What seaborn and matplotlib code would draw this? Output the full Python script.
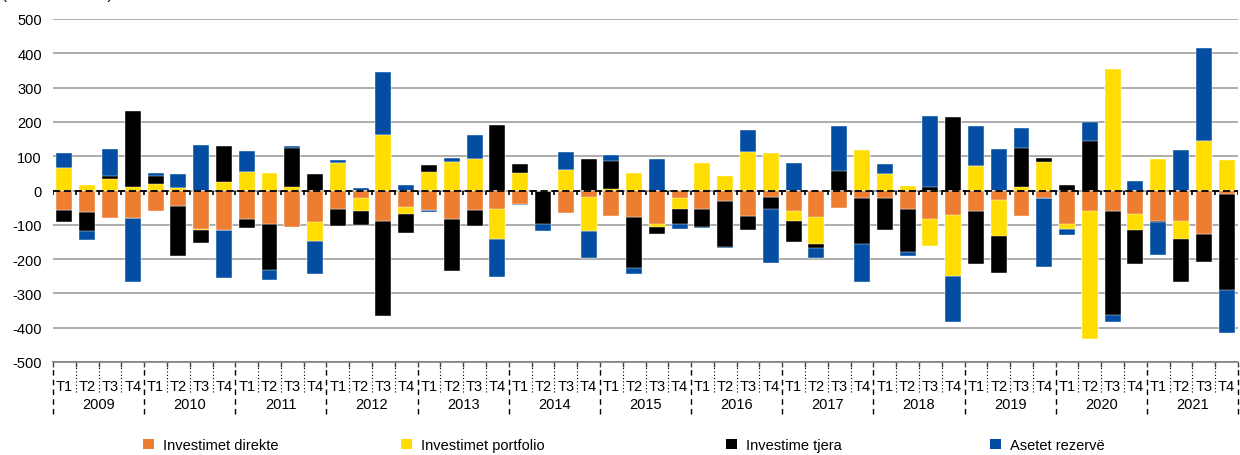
import numpy as np
import pandas as pd
import matplotlib
matplotlib.use('Agg')
import matplotlib.pyplot as plt
import matplotlib.transforms as mtransforms
from matplotlib.patches import Patch
import seaborn as sns

# Albanian BoP financial account components, quarterly 2009-2021 (million euro)
years = [str(y) for y in range(2009, 2022)]
quarters = ['T1', 'T2', 'T3', 'T4']

direct = [-56, -62, -81, -79, -60, -44, -111, -116, -82, -99, -106, -92,
          -55, -23, -89, -47, -58, -84, -56, -53, -38, -2, -67, -18,
          -73, -76, -99, -23, -53, -30, -74, -20, -60, -76, -50, -23,
          -22, -53, -82, -70, -61, -29, -73, -23, -97, -61, -61, -68,
          -90, -90, -126, -10]
portfolio = [66, 15, 34, 10, 19, 6, -3, 26, 53, 50, 9, -55,
             81, -36, 162, -21, 54, 82, 91, -87, 51, 2, 59, -100,
             5, 50, -7, -30, 79, 41, 113, 110, -28, -80, 0, 117,
             48, 12, -80, -179, 70, -103, 9, 83, -16, -371, 354, -46,
             92, -52, 143, 90]
other = [-35, -56, 8, 222, 23, -146, -39, 105, -28, -133, 116, 49,
         -48, -41, -277, -56, 19, -150, -47, 191, 27, -95, 0, 92,
         82, -149, -20, -44, -54, -134, -42, -34, -61, -13, 57, -132,
         -93, -126, 10, 213, -152, -109, 116, 13, 17, 144, -301, -99,
         -3, -125, -83, -279]
reserve = [42, -27, 80, -189, 10, 42, 132, -139, 61, -28, 4, -96,
           8, 8, 184, 17, -5, 13, 70, -113, -5, -22, 53, -80,
           17, -18, 92, -16, -3, -4, 64, -157, 81, -28, 131, -112,
           30, -12, 208, -135, 119, 120, 56, -200, -18, 56, -21, 28,
           -95, 118, 271, -126]

names = ['Investimet direkte', 'Investimet portfolio', 'Investime tjera', 'Asetet rezervë']
colors = ['#ED7D31', '#FFDD00', '#000000', '#034EA2']
series = [direct, portfolio, other, reserve]

n = len(direct)
idx = list(range(n))
vals = np.array(series, dtype=float)
pos_cum = np.cumsum(np.clip(vals, 0, None), axis=0)
neg_cum = np.cumsum(np.clip(vals, None, 0), axis=0)

fig = plt.figure(figsize=(12.4, 4.56), dpi=100)
ax = fig.add_axes([53 / 1240, 1 - 363 / 456, (1238 - 53) / 1240, 343 / 456])
plt.rcParams['font.family'] = ['Liberation Sans', 'DejaVu Sans']

# diverging stack: draw cumulative totals from the top layer down so each overlays the next
for k in range(3, -1, -1):
    for cum in (pos_cum[k], neg_cum[k]):
        df = pd.DataFrame({'q': idx, 'v': cum})
        sns.barplot(data=df, x='q', y='v', color=colors[k], saturation=1,
                    width=0.7, errorbar=None, ax=ax, zorder=2,
                    edgecolor='white', linewidth=0.3)

ax.set_xlim(-0.5, n - 0.5)
ax.set_ylim(-500, 500)
ax.set_yticks(range(-500, 501, 100))
ax.set_yticklabels([str(v) for v in range(-500, 501, 100)], fontsize=10.5,
                   family=['Liberation Sans', 'DejaVu Sans'])
ax.yaxis.grid(True, color='#A6A6A6', lw=1.3, zorder=0)
ax.set_axisbelow(True)
ax.tick_params(axis='y', length=0, pad=8)
ax.set_xticks([])
ax.set_xlabel('')
ax.set_ylabel('')
for s in ['top', 'right', 'left']:
    ax.spines[s].set_visible(False)
ax.spines['bottom'].set_color('#808080')
ax.spines['bottom'].set_linewidth(1.2)

# zero line with boundary ticks
ax.axhline(0, color='black', lw=1.3, ls=(0, (4, 2)), zorder=5)
bounds = np.arange(-0.5, n, 1.0)
ax.vlines(bounds, -12, 0, color='black', lw=1.2, zorder=5)

# category axis at the bottom
trans = mtransforms.blended_transform_factory(ax.transData, ax.transAxes)
px = 1 / 343
ax.vlines(bounds, -5 * px, 0, color='#404040', lw=1, transform=trans, clip_on=False)
for i, b in enumerate(bounds):
    if i % 4 == 0:
        ax.vlines(b, -52 * px, -5 * px, color='black', lw=1, ls=(0, (4, 3)),
                  transform=trans, clip_on=False)
    else:
        ax.vlines(b, -30 * px, -5 * px, color='black', lw=0.8, ls=(0, (1, 2)),
                  transform=trans, clip_on=False)
for i in idx:
    ax.text(i, -24 * px, quarters[i % 4], ha='center', va='center', fontsize=10.5,
            transform=trans, family=['Liberation Sans', 'DejaVu Sans'])
for j, y in enumerate(years):
    ax.text(4 * j + 1.5, -42 * px, y, ha='center', va='center', fontsize=10.5,
            transform=trans, family=['Liberation Sans', 'DejaVu Sans'])

# legend entries placed like the original
leg_x = [145, 403, 728, 992]
for name, c, x in zip(names, colors, leg_x):
    fig.legend(handles=[Patch(facecolor=c, edgecolor='none', label=name)],
               loc='center left', bbox_to_anchor=(x / 1240 - 0.006, 1 - 446 / 456),
               frameon=False, fontsize=10.5, handlelength=0.75, handleheight=0.75,
               handletextpad=0.6, borderaxespad=0,
               prop={'family': ['Liberation Sans', 'DejaVu Sans'], 'size': 10.5})

fig.text(0.002, 1 + 1 / 456, '(në milionë euro)', va='baseline', ha='left', fontsize=10.5)

fig.savefig('out.png', dpi=100)
